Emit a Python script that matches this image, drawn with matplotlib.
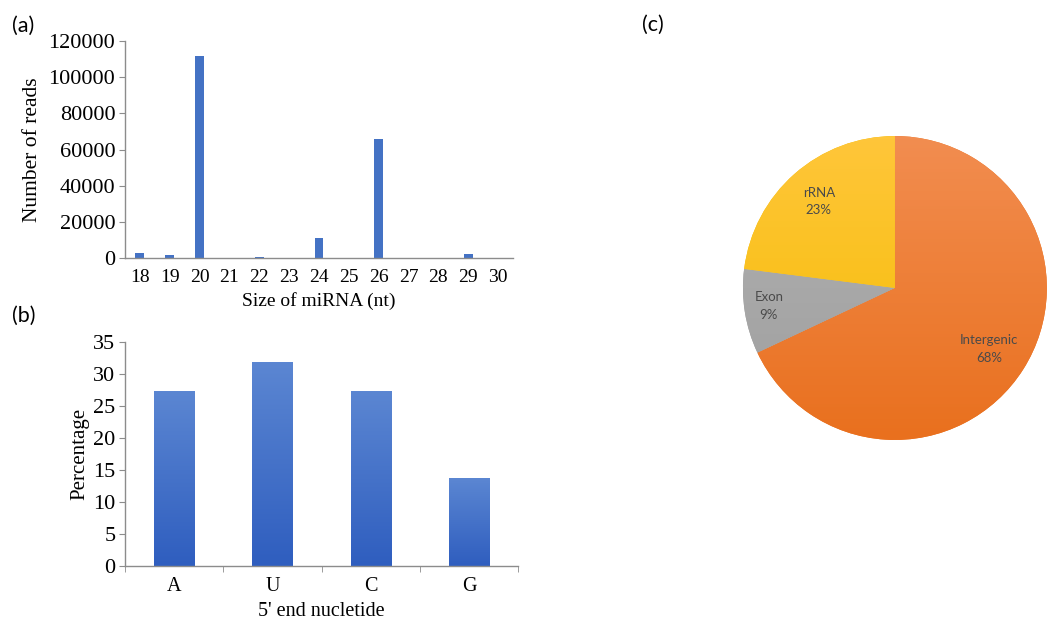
import numpy as np
import matplotlib
matplotlib.use('Agg')
from matplotlib import pyplot as plt
from matplotlib.colors import LinearSegmentedColormap

# (a) read length distribution
sizes = ['18', '19', '20', '21', '22', '23', '24', '25', '26', '27', '28', '29', '30']
reads = [2500, 1500, 111500, 0, 500, 0, 11000, 0, 66000, 0, 0, 2000, 0]

# (b) 5' end nucleotide
nucleotides = ['A', 'U', 'C', 'G']
percentage = [27.27, 31.82, 27.27, 13.64]

# (c) genomic origin
origins = ['Intergenic', 'Exon', 'rRNA']
origin_pct = [68, 9, 23]
# (bottom, top) shades of each slice
origin_colors = [('#E9701E', '#F28D50'), ('#9E9E9E', '#B2B2B2'), ('#F4BC00', '#FFC63A')]

serif = 'Liberation Serif'
sans = 'Lato'
axis_gray = '#8c8c8c'

fig = plt.figure(figsize=(10.57, 6.27), dpi=100)


def style_axes(ax):
    for side in ('top', 'right'):
        ax.spines[side].set_visible(False)
    for side in ('left', 'bottom'):
        ax.spines[side].set_color(axis_gray)
        ax.spines[side].set_linewidth(1.0)
    ax.tick_params(axis='y', length=4, color=axis_gray, labelsize=16, pad=3)
    for lab in ax.get_xticklabels() + ax.get_yticklabels():
        lab.set_fontfamily(serif)


# ---- panel (a)
ax_a = fig.add_axes([0.1183, 0.5885, 0.367, 0.346])
x_a = np.arange(len(sizes))
ax_a.bar(x_a, reads, width=0.3, color='#4472C4', zorder=2)
ax_a.set_xlim(-0.5, len(sizes) - 0.5)
ax_a.set_ylim(0, 120000)
ax_a.set_yticks(np.arange(0, 120001, 20000))
ax_a.set_xticks(x_a)
ax_a.set_xticklabels(sizes)
ax_a.tick_params(axis='x', length=0, pad=8, labelsize=14)
style_axes(ax_a)
ax_a.set_ylabel('Number of reads', fontfamily=serif, fontsize=15.5, labelpad=5)
ax_a.set_xlabel('Size of miRNA (nt)', fontfamily=serif, fontsize=14, labelpad=4)

# ---- panel (b)
ax_b = fig.add_axes([0.1183, 0.0973, 0.372, 0.3572])
x_b = np.arange(len(nucleotides))
bars = ax_b.bar(x_b, percentage, width=0.41, color='none', zorder=2)
grad = LinearSegmentedColormap.from_list('blues', ['#2f5ebf', '#5b86d2'])
for b in bars:
    x0, w, h = b.get_x(), b.get_width(), b.get_height()
    ax_b.imshow(np.linspace(0, 1, 100).reshape(-1, 1), cmap=grad, origin='lower',
                extent=(x0, x0 + w, 0, h), aspect='auto', zorder=2)
ax_b.set_xlim(-0.5, len(nucleotides) - 0.5)
ax_b.set_ylim(0, 35)
ax_b.set_yticks(np.arange(0, 36, 5))
ax_b.set_xticks(x_b)
ax_b.set_xticklabels(nucleotides)
ax_b.set_xticks(np.arange(-0.5, len(nucleotides)), minor=True)
ax_b.tick_params(axis='x', which='major', length=0, pad=8, labelsize=14.5)
ax_b.tick_params(axis='x', which='minor', length=4, color=axis_gray)
style_axes(ax_b)
ax_b.set_ylabel('Percentage', fontfamily=serif, fontsize=15, labelpad=3)
ax_b.set_xlabel("5' end nucletide", fontfamily=serif, fontsize=14.5, labelpad=4)

# ---- panel (c)
ax_c = fig.add_axes([0.700, 0.2935, 0.2933, 0.4944])
wedges, texts = ax_c.pie(origin_pct, colors=[c[0] for c in origin_colors],
                         startangle=90, counterclock=False, radius=1.0)
for wedge, (c_lo, c_hi) in zip(wedges, origin_colors):
    cmap = LinearSegmentedColormap.from_list('shade', [c_lo, c_hi])
    im = ax_c.imshow(np.linspace(0, 1, 100).reshape(-1, 1), cmap=cmap, origin='lower',
                     extent=(-1, 1, -1, 1), aspect='auto', zorder=2)
    im.set_clip_path(wedge)
label_pos = [(0.62, -0.40), (-0.83, -0.12), (-0.50, 0.57)]
for name, pct, (lx, ly) in zip(origins, origin_pct, label_pos):
    ax_c.text(lx, ly, f'{name}\n{pct}%', ha='center', va='center', zorder=3,
              fontfamily=sans, fontsize=9.5, color='#4a4a4a', linespacing=1.55)
ax_c.set_xlim(-1.02, 1.02)
ax_c.set_ylim(-1.02, 1.02)
ax_c.set_aspect('equal')

# panel letters
fig.text(0.011, 0.958, '(a)', fontfamily=sans, fontsize=15.5, va='center')
fig.text(0.011, 0.497, '(b)', fontfamily=sans, fontsize=15.5, va='center')
fig.text(0.607, 0.960, '(c)', fontfamily=sans, fontsize=15.5, va='center')

fig.savefig('out.png', dpi=100)
